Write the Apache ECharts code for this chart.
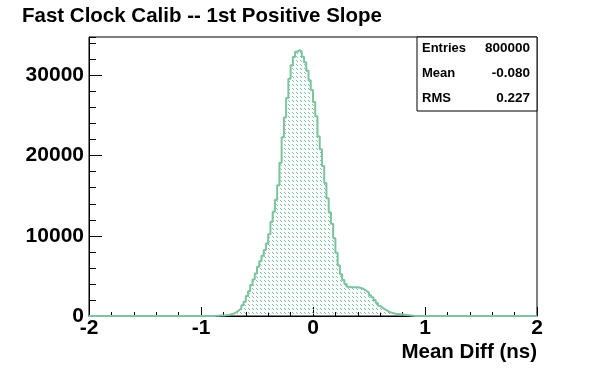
<!DOCTYPE html>
<html>
<head>
<meta charset="utf-8">
<script src="https://cdn.jsdelivr.net/npm/echarts@6/dist/echarts.min.js"></script>
<style>
html,body{margin:0;padding:0;background:#fff;}
#chart{width:596px;height:372px;}
</style>
</head>
<body>
<div id="chart"></div>
<script>
// ---- data ----
const titleText = "Fast Clock Calib -- 1st Positive Slope";
const xAxisTitle = "Mean Diff (ns)";
const xRange = [-2, 2];
const yMax = 34800;
const xTicks = [-2, -1, 0, 1, 2];
const yTicks = [0, 10000, 20000, 30000];
const binWidth = 0.02;
const firstBinEdge = -0.90;
const counts = [
  10, 20, 40, 50, 60, 80, 120, 170, 240, 340,
  520, 720, 960, 1350, 1780, 2480, 3100, 3860, 4550, 5300,
  6140, 6840, 7530, 8220, 9050, 10200, 11750, 13000, 14500, 16300,
  19100, 22300, 24760, 27200, 29600, 31270, 32310, 32950, 33150, 33000,
  32350, 31650, 30600, 29400, 28200, 26700, 24900, 22400, 20800, 18700,
  16600, 14700, 12950, 11500, 9700, 7900, 6300, 5200, 4500, 4000,
  3650, 3580, 3580, 3580, 3580, 3520, 3460, 3300, 3120, 2900,
  2600, 2350, 2000, 1620, 1280, 1050, 860, 700, 550, 420,
  330, 280, 240, 210, 180, 150, 120, 90, 60, 30, 10
];
const statsLabels = ["Entries", "Mean", "RMS"];
const statsValues = ["800000", "-0.080", "0.227"];

// ---- build outline points from bins ----
const pts = [[xRange[0], 0], [firstBinEdge, 0]];
counts.forEach((c, i) => {
  const lo = +(firstBinEdge + i * binWidth).toFixed(4);
  const hi = +(firstBinEdge + (i + 1) * binWidth).toFixed(4);
  pts.push([lo, c], [hi, c]);
});
const lastEdge = +(firstBinEdge + counts.length * binWidth).toFixed(4);
pts.push([lastEdge, 0], [xRange[1], 0]);

const lineColor = '#7cc3a0';
// hatch pattern
const pc = document.createElement('canvas');
pc.width = 4; pc.height = 4;
const g = pc.getContext('2d');
g.fillStyle = lineColor;
g.fillRect(0, 0, 1, 1);
g.fillRect(1, 1, 1, 1);

const FONT = '"Liberation Sans", Arial, Helvetica, sans-serif';
const chart = echarts.init(document.getElementById('chart'), null, {renderer: 'canvas'});

const statsChildren = [
  {type: 'rect', shape: {x: 417, y: 37, width: 120, height: 74},
   style: {fill: '#fff', stroke: '#000', lineWidth: 1}, z: 10}
];
statsLabels.forEach((l, i) => {
  const y = 48 + i * 25;
  statsChildren.push({type: 'text', x: 422, y: y, z: 11,
    style: {text: l, font: 'bold 13px ' + FONT, fill: '#000', textAlign: 'left', textVerticalAlign: 'middle'}});
  statsChildren.push({type: 'text', x: 530, y: y, z: 11,
    style: {text: statsValues[i], font: 'bold 13.5px ' + FONT, fill: '#000', textAlign: 'right', textVerticalAlign: 'middle'}});
});

chart.setOption({
  animation: false,
  backgroundColor: '#fff',
  grid: {left: 89, right: 59, top: 37, bottom: 56, show: true, borderColor: '#000', borderWidth: 1, backgroundColor: '#fff'},
  xAxis: {
    type: 'value', min: xRange[0], max: xRange[1], interval: 1,
    axisLine: {show: true, onZero: false, lineStyle: {color: '#000', width: 1}},
    axisTick: {show: true, inside: true, length: 9, lineStyle: {color: '#000'}},
    minorTick: {show: true, splitNumber: 5, length: 4, lineStyle: {color: '#000'}},
    splitLine: {show: false},
    axisLabel: {show: true, margin: 2, color: '#000', fontSize: 21, fontWeight: 'bold', fontFamily: FONT,
      formatter: v => xTicks.includes(v) ? String(v) : ''}
  },
  yAxis: [{
    type: 'value', min: 0, max: yMax, interval: 10000,
    axisLine: {show: true, onZero: false, lineStyle: {color: '#000', width: 1}},
    axisTick: {show: true, inside: true, length: 13, lineStyle: {color: '#000'}},
    splitLine: {show: false},
    axisLabel: {show: true, margin: 5, color: '#000', fontSize: 21, fontWeight: 'bold', fontFamily: FONT,
      showMaxLabel: false,
      formatter: v => yTicks.includes(v) ? String(v) : ''}
  }, {
    type: 'value', min: 0, max: yMax, interval: 2000, position: 'left', offset: 0,
    axisLine: {show: false, onZero: false},
    axisTick: {show: true, inside: true, length: 7, lineStyle: {color: '#000'}},
    splitLine: {show: false},
    axisLabel: {show: false}
  }],
  series: [{
    type: 'line', data: pts, yAxisIndex: 0, showSymbol: false, symbol: 'none',
    lineStyle: {color: lineColor, width: 2},
    areaStyle: {color: {image: pc, repeat: 'repeat'}, opacity: 1},
    z: 5, clip: true
  }],
  graphic: [
    {type: 'text', x: 22, y: 16, style: {text: titleText, font: 'bold 20.5px ' + FONT, fill: '#000', textAlign: 'left', textVerticalAlign: 'middle'}},
    {type: 'text', x: 537, y: 352, style: {text: xAxisTitle, font: 'bold 20.5px ' + FONT, fill: '#000', textAlign: 'right', textVerticalAlign: 'middle'}},
    {type: 'group', children: statsChildren}
  ]
});
</script>
</body>
</html>
